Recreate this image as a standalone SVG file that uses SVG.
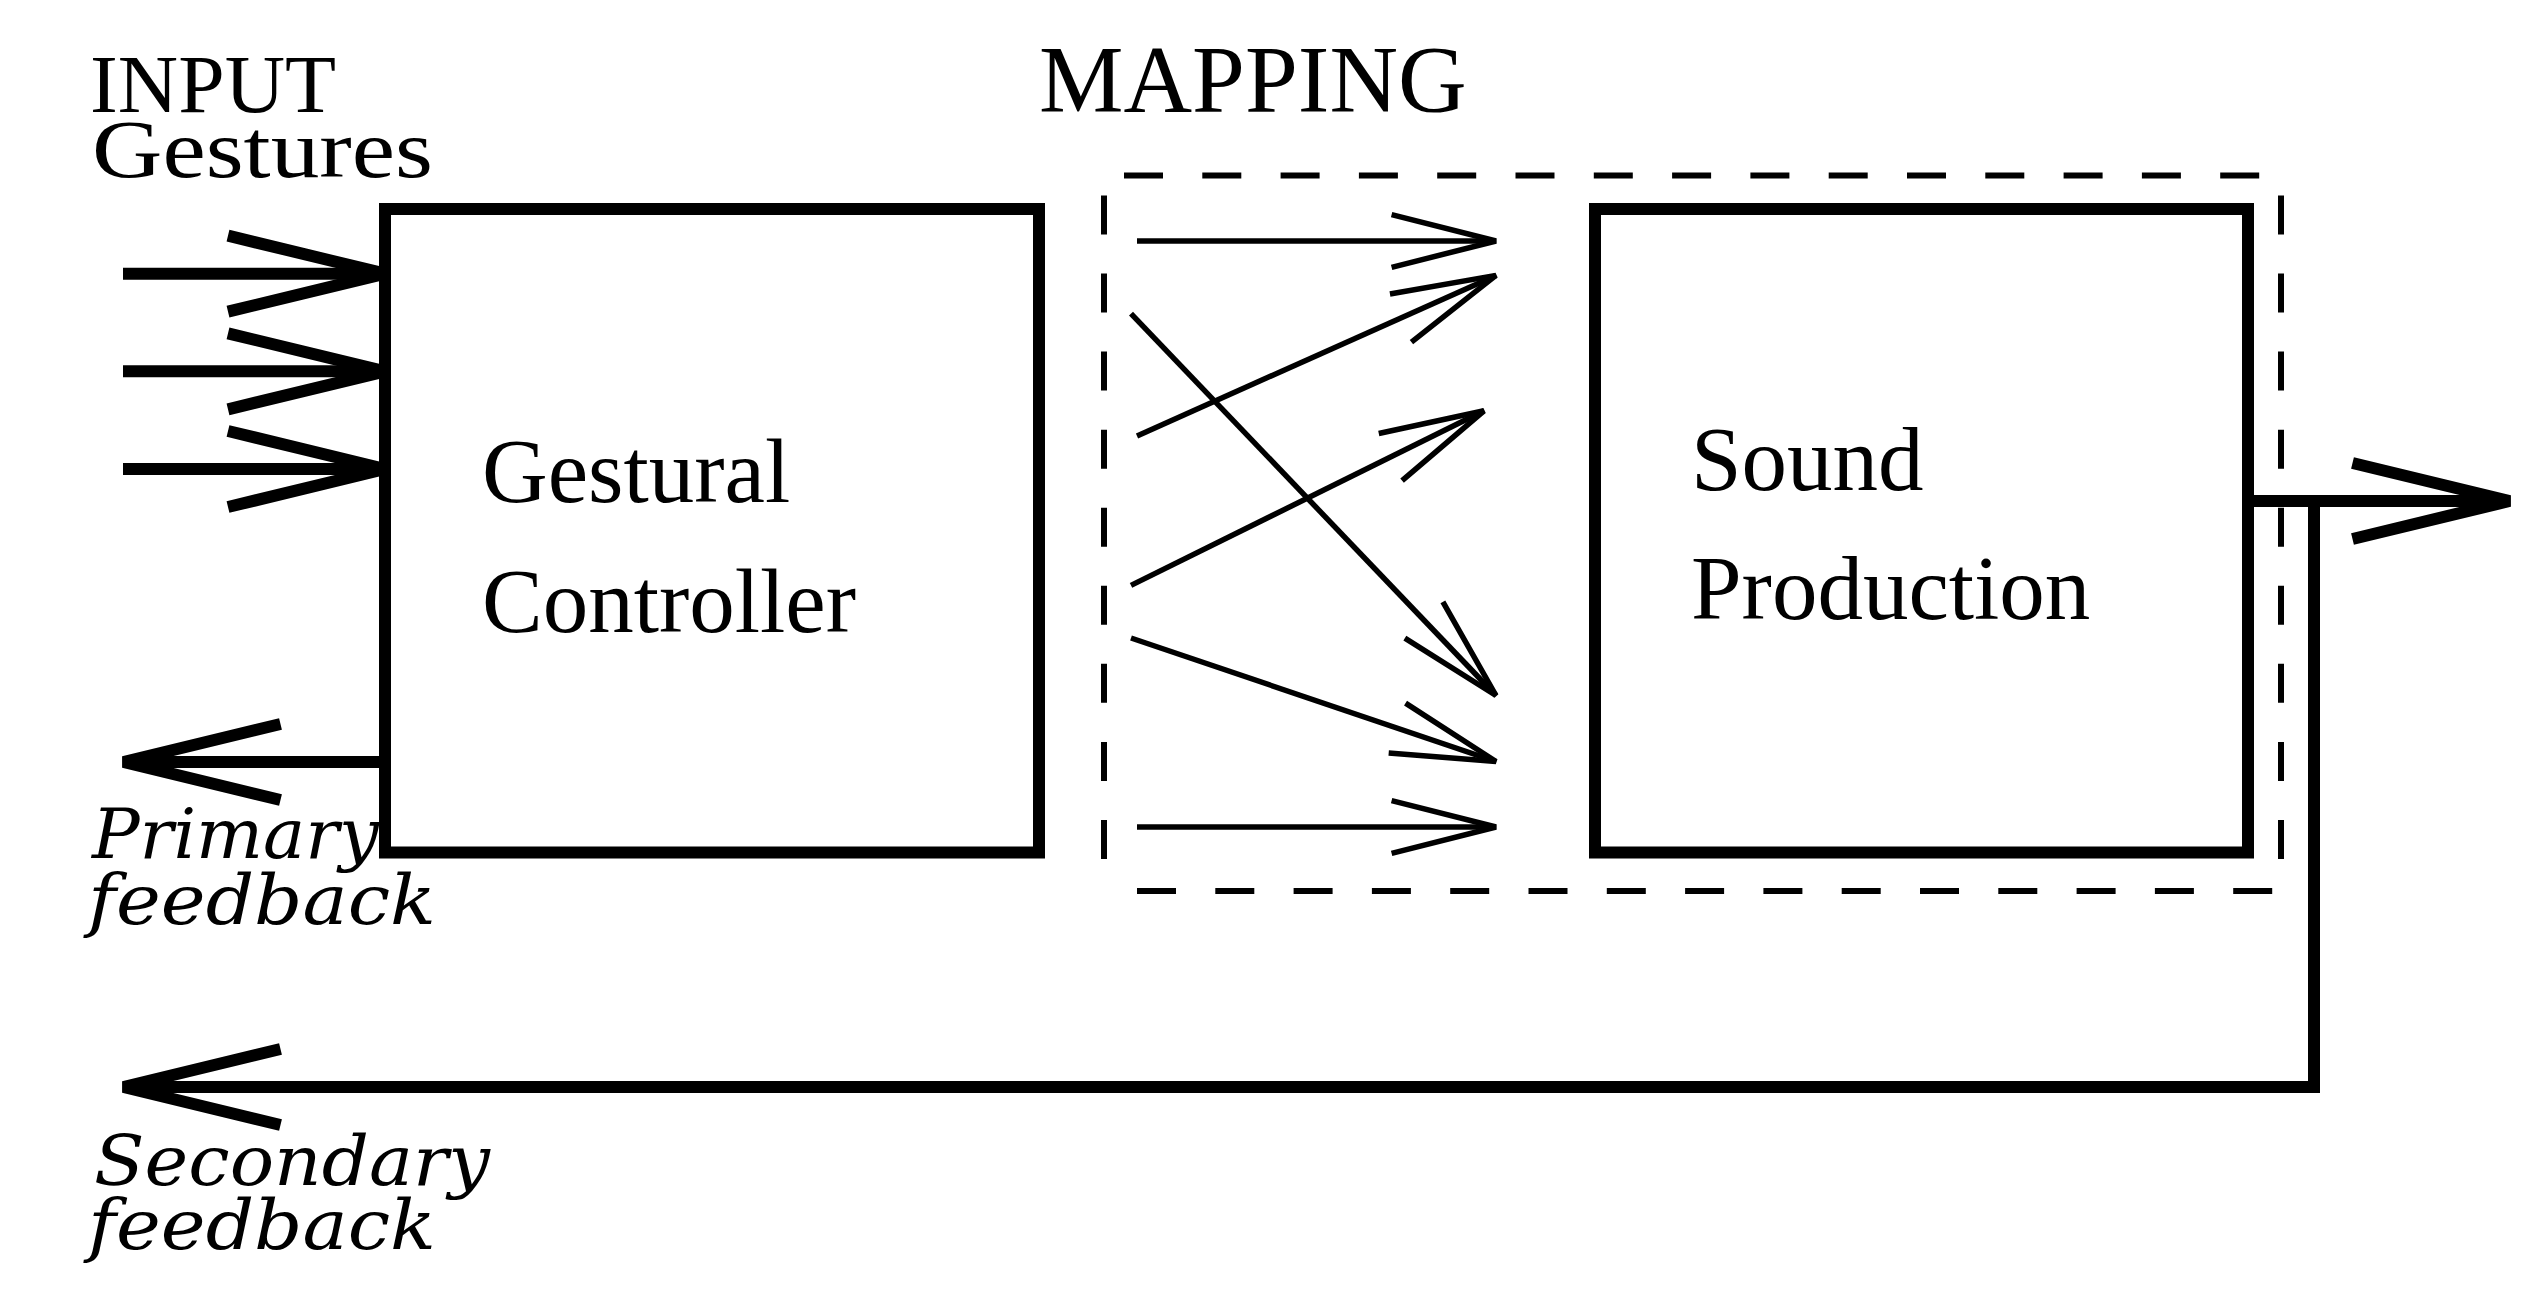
<svg xmlns="http://www.w3.org/2000/svg" width="2540" height="1306" viewBox="0 0 2540 1306">
  <style>
    .box { fill: none; stroke: #000; stroke-width: 12; }
    .thick { fill: none; stroke: #000; stroke-width: 12; stroke-linejoin: miter; }
    .thin { fill: none; stroke: #000; stroke-width: 5.5; }
    .dash { fill: none; stroke: #000; stroke-width: 6; stroke-dasharray: 39 39.3; }
    .dashv { fill: none; stroke: #000; stroke-width: 6; stroke-dasharray: 39 39.06; }
    .serif { font-family: "Liberation Serif", "Times New Roman", serif; fill: #000; }
    .ital { font-family: "DejaVu Serif", serif; font-style: italic; fill: #000; }
  </style>
  <defs>
    <marker id="headThick" markerUnits="userSpaceOnUse" viewBox="-170 -50 180 100" refX="0" refY="0" markerWidth="180" markerHeight="100" orient="auto">
      <path d="M-157,-38 L0,0 L-157,38" fill="none" stroke="#000" stroke-width="12" stroke-linejoin="bevel"/>
    </marker>
    <marker id="headThin" markerUnits="userSpaceOnUse" viewBox="-120 -40 130 80" refX="0" refY="0" markerWidth="130" markerHeight="80" orient="auto">
      <path d="M-104.4,-26.3 L0,0 L-104.4,26.3" fill="none" stroke="#000" stroke-width="5.5" stroke-linejoin="bevel"/>
    </marker>
  </defs>
  <rect x="0" y="0" width="2540" height="1306" fill="#fff"/>

  <g id="label-input">
    <text class="serif" x="90" y="112" font-size="82" textLength="246" lengthAdjust="spacingAndGlyphs">INPUT</text>
    <text class="serif" x="92" y="177" font-size="82" textLength="341" lengthAdjust="spacingAndGlyphs">Gestures</text>
  </g>

  <g id="label-mapping">
    <text class="serif" x="1039" y="112" font-size="95">MAPPING</text>
  </g>

  <g id="mapping-region">
    <path class="dash" d="M1124,175.6 H2260"/>
    <path class="dash" d="M1137,891 H2273"/>
    <path class="dashv" d="M1104,195.5 V859"/>
    <path class="dashv" d="M2281,195.5 V859"/>
  </g>

  <g id="node-gestural-controller">
    <rect class="box" x="385" y="209" width="654" height="643.5"/>
    <text class="serif" x="482" y="502" font-size="91">Gestural</text>
    <text class="serif" x="482" y="632" font-size="91">Controller</text>
  </g>

  <g id="node-sound-production">
    <rect class="box" x="1595" y="209" width="653" height="643.5"/>
    <text class="serif" x="1691" y="490" font-size="91">Sound</text>
    <text class="serif" x="1691" y="619" font-size="91">Production</text>
  </g>

  <g id="connectors">
    <!-- input gestures -->
    <line class="thick" x1="123" y1="273.7" x2="385" y2="273.7" marker-end="url(#headThick)"/>
    <line class="thick" x1="123" y1="371.3" x2="385" y2="371.3" marker-end="url(#headThick)"/>
    <line class="thick" x1="123" y1="469" x2="385" y2="469" marker-end="url(#headThick)"/>
    <!-- primary feedback -->
    <line class="thick" x1="385" y1="762" x2="123.5" y2="762" marker-end="url(#headThick)"/>
    <!-- mapping arrows -->
    <line class="thin" x1="1137" y1="241" x2="1496" y2="241" marker-end="url(#headThin)"/>
    <line class="thin" x1="1131" y1="313.6" x2="1496" y2="695.5" marker-end="url(#headThin)"/>
    <line class="thin" x1="1137" y1="436" x2="1496" y2="275.4" marker-end="url(#headThin)"/>
    <line class="thin" x1="1131" y1="585.4" x2="1484" y2="410.8" marker-end="url(#headThin)"/>
    <line class="thin" x1="1131" y1="638" x2="1496" y2="761.5" marker-end="url(#headThin)"/>
    <line class="thin" x1="1137" y1="827" x2="1496" y2="827" marker-end="url(#headThin)"/>
    <!-- output -->
    <line class="thick" x1="2248" y1="501" x2="2509.5" y2="501" marker-end="url(#headThick)"/>
    <!-- secondary feedback -->
    <path class="thick" d="M2314,501 V1087 H123.5" marker-end="url(#headThick)"/>
  </g>

  <g id="label-primary-feedback">
    <text class="ital" x="92" y="858" font-size="70" textLength="287" lengthAdjust="spacingAndGlyphs">Primary</text>
    <text class="ital" x="88" y="924" font-size="70" textLength="348" lengthAdjust="spacingAndGlyphs">feedback</text>
  </g>

  <g id="label-secondary-feedback">
    <text class="ital" x="94" y="1185" font-size="70" textLength="396" lengthAdjust="spacingAndGlyphs">Secondary</text>
    <text class="ital" x="88" y="1249" font-size="70" textLength="348" lengthAdjust="spacingAndGlyphs">feedback</text>
  </g>
</svg>
